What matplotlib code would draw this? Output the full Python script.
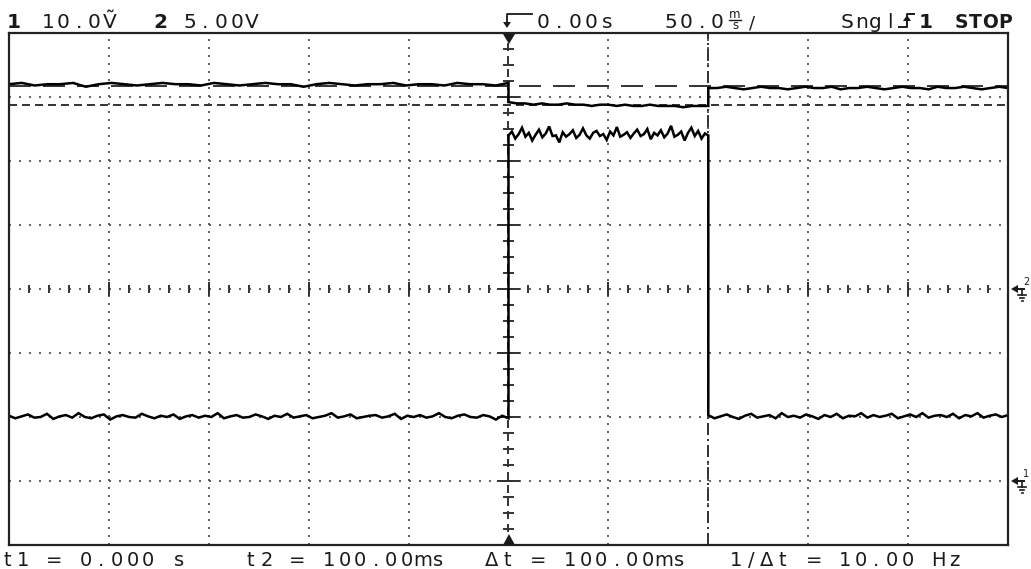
import numpy as np
import matplotlib
matplotlib.use('Agg')
import matplotlib.pyplot as plt
from matplotlib.lines import Line2D
from matplotlib.patches import Polygon

plt.rcParams['lines.scale_dashes'] = False
plt.rcParams['font.family'] = ['DejaVu Sans']

W, H = 1031, 569

# scope settings
ch1_volts_div = 10.0
ch2_volts_div = 5.0
ch1_ground_div = -3.0
ch2_ground_div = 0.0
time_div_ms = 50.0
t_start, t_end = -250.0, 250.0
t1_ms, t2_ms = 0.0, 100.0

# channel 1 (volts), before t1 / between t1 and t2 / after t2
ch1_pre = [10.2, 9.8, 10.1, 10.4, 9.9, 10.0, 10.5, 9.7, 10.1, 10.3, 9.9, 10.6, 10.0, 9.8,
           10.2, 10.4, 9.6, 10.1, 10.3, 10.0, 9.9, 10.5, 10.1, 9.8, 10.2, 10.0, 10.4, 9.7,
           10.1, 10.3, 9.9, 10.2, 10.0, 10.6, 9.8, 10.1, 10.3, 9.9, 10.0, 10.4, 10.1, 9.7,
           10.2, 10.0, 10.5, 9.9, 10.1, 10.3, 9.8, 10.0, 10.2, 10.6, 9.9, 10.1, 10.4, 9.8,
           10.0, 10.2, 10.3, 9.9, 10.1, 10.5, 9.7, 10.2, 10.0, 10.3, 9.9, 10.1, 10.6, 10.0,
           9.8, 10.2, 10.4, 10.0, 9.9, 10.3, 10.1, 9.6, 10.2, 9.8]
ch1_on = [54.0, 54.6, 53.5, 54.2, 55.2, 53.8, 54.4, 53.2, 54.1, 54.9, 53.7, 54.3, 55.4, 53.9,
          54.0, 52.9, 54.5, 53.8, 54.2, 54.8, 53.6, 54.1, 55.1, 54.0, 53.5, 54.4, 54.7, 53.9,
          54.2, 53.3, 54.6, 54.0, 55.3, 53.8, 54.1, 54.5, 53.6, 54.3, 54.9, 53.9, 54.2, 55.0,
          53.4, 54.4, 54.0, 54.8, 53.7, 54.3, 55.5, 53.8, 54.1, 54.6, 53.2, 54.4, 55.2, 53.9,
          54.7, 53.5, 54.3, 54.0]
ch1_post = [10.3, 9.8, 10.1, 10.4, 10.0, 9.7, 10.2, 10.5, 9.9, 10.1, 10.3, 9.8, 10.6, 10.0,
            10.2, 9.9, 10.4, 10.1, 9.7, 10.3, 10.0, 10.5, 9.8, 10.2, 10.1, 10.6, 9.9, 10.3,
            10.0, 10.2, 10.5, 9.8, 10.1, 10.4, 10.0, 10.6, 9.9, 10.2, 10.3, 10.0, 10.5, 9.8,
            10.3, 10.1, 10.6, 9.9, 10.2, 10.4, 10.0, 10.3]

# channel 2 (volts)
ch2_pre = [16.0, 16.1, 15.9, 16.0, 16.0, 16.1, 15.8, 16.0, 16.1, 16.0, 15.9, 16.0, 16.1, 16.0,
           16.0, 15.9, 16.1, 16.0, 15.9, 16.0, 16.1, 16.0, 16.0, 15.8, 16.0, 16.1, 16.0, 15.9,
           16.0, 16.0, 16.1, 15.9, 16.0, 16.0, 15.9, 16.1, 16.0, 16.0, 15.9, 16.1]
ch2_on = [14.6, 14.5, 14.5, 14.4, 14.5, 14.4, 14.4, 14.5, 14.4, 14.4, 14.3, 14.4, 14.4, 14.3,
          14.4, 14.3, 14.3, 14.4, 14.3, 14.3, 14.3, 14.2, 14.3, 14.3, 14.3]
ch2_post = [15.7, 15.7, 15.8, 15.7, 15.6, 15.7, 15.8, 15.7, 15.7, 15.6, 15.7, 15.8, 15.7, 15.7,
            15.8, 15.6, 15.7, 15.7, 15.8, 15.7, 15.6, 15.7, 15.8, 15.7, 15.7, 15.6, 15.8, 15.7,
            15.7, 15.8, 15.7, 15.6, 15.7, 15.8, 15.7]

# voltage cursors (channel 2 volts)
cursor_a_v = 15.85
cursor_b_v = 14.35

header_left = [("1", "10.0Ṽ"), ("2", "5.00V")]
footer = ["t1 = 0.000 s", "t2 = 100.00ms", "Δt = 100.00ms", "1/Δt = 10.00 Hz"]

INK = '#1a1a1a'


def pt(p):
    # pixels -> points at 100 dpi
    return p * 0.72


def fx(x):
    return x / W


def fy(y):
    return 1 - y / H


fig = plt.figure(figsize=(W / 100, H / 100), dpi=100)
ax = fig.add_axes([fx(9), fy(545), (1008 - 9) / W, (545 - 33) / H])
ax.set_xlim(t_start, t_end)
ax.set_ylim(-4, 4)
ax.set_xticks([])
ax.set_yticks([])
for s in ax.spines.values():
    s.set_linewidth(1.6)
    s.set_color('#222222')

# graticule
for k in range(-4, 5):
    if k != 0:
        ax.axvline(k * time_div_ms, color='#555555', lw=1.3, ls=(0, (pt(2), pt(6))))
for k in range(-3, 4):
    if k != 0:
        ax.axhline(k, color='#555555', lw=1.3, ls=(0, (pt(2), pt(8))))
ax.axhline(0, color='#555555', lw=1.3, ls=(0, (pt(2), pt(8))))
minor_x = [x for x in np.arange(t_start, t_end + 1, 10.0) if x != 0]
ax.vlines(minor_x, -0.07, 0.07, color='#333333', lw=1.4)
major_x = [x for x in np.arange(t_start + 50, t_end, 50.0) if x != 0]
ax.vlines(major_x, -0.11, 0.11, color='#333333', lw=1.4)
minor_y = np.arange(-4, 4.01, 0.25)
ax.hlines(minor_y, -3.0, 3.0, color='#333333', lw=1.4)
ax.hlines(np.arange(-3, 4), -6.0, 6.0, color='#333333', lw=1.4)

# time cursors
ax.axvline(t1_ms, color='#333333', lw=1.4, ls=(0, (pt(8), pt(5))))
ax.axvline(t2_ms, color='#333333', lw=1.4, ls=(0, (pt(12), pt(4), pt(2), pt(4))))

# voltage cursors
ax.axhline(cursor_a_v / ch2_volts_div + ch2_ground_div, color='#333333', lw=1.4,
           ls=(0, (pt(22), pt(12))))
ax.axhline(cursor_b_v / ch2_volts_div + ch2_ground_div, color='#333333', lw=1.4,
           ls=(0, (pt(8), pt(5))))


def trace(pre, on, post, vdiv, gnd):
    t = np.concatenate([np.linspace(t_start, t1_ms, len(pre)),
                        np.linspace(t1_ms, t2_ms, len(on)),
                        np.linspace(t2_ms, t_end, len(post))])
    v = np.concatenate([pre, on, post])
    ax.plot(t, v / vdiv + gnd, color='black', lw=1.8, solid_joinstyle='miter')


trace(ch1_pre, ch1_on, ch1_post, ch1_volts_div, ch1_ground_div)
trace(ch2_pre, ch2_on, ch2_post, ch2_volts_div, ch2_ground_div)


# figure-level decorations in image pixels
def fline(xs, ys, lw=1.3):
    fig.add_artist(Line2D([fx(x) for x in xs], [fy(y) for y in ys],
                          transform=fig.transFigure, color=INK, lw=lw))


def ftri(pts):
    fig.add_artist(Polygon([(fx(x), fy(y)) for x, y in pts], closed=True,
                           transform=fig.transFigure, color=INK, lw=0, zorder=5))


def grid_text(x0, base, s, pitch, size=14.5, weight='normal'):
    for i, ch in enumerate(s):
        if ch != ' ':
            fig.text(fx(x0 + (i + 0.5) * pitch), fy(base), ch, ha='center', va='baseline',
                     fontsize=size, fontweight=weight, color=INK)


# header
fig.text(fx(14), fy(28), header_left[0][0], ha='center', va='baseline', fontsize=14.5,
         fontweight='bold', color=INK)
grid_text(40, 28, header_left[0][1], 15.5)
fig.text(fx(160), fy(28), header_left[1][0], ha='center', va='baseline', fontsize=14.5,
         fontweight='bold', color=INK)
grid_text(182, 28, header_left[1][1], 15.6)

fline([532, 507, 507], [14, 14, 22])
ftri([(503, 22), (511, 22), (507, 28)])
grid_text(535, 28, "0.00s", 16)
grid_text(663, 28, "50.0", 15.5)
fig.text(fx(735), fy(18), 'm', ha='center', va='baseline', fontsize=8.5, color=INK)
fline([729, 741], [20, 20], lw=1.0)
fig.text(fx(735), fy(29), 's', ha='center', va='baseline', fontsize=8.5, color=INK)
fig.text(fx(752), fy(28), '/', ha='center', va='baseline', fontsize=13, color=INK)

grid_text(840, 28, "Sngl", 14.3)
fline([899, 907, 907, 914], [27, 27, 14, 14], lw=1.4)
ftri([(903, 21), (911, 21), (907, 15)])
fig.text(fx(926), fy(28), '1', ha='center', va='baseline', fontsize=14.5, fontweight='bold',
         color=INK)
grid_text(954, 28, "STOP", 14.5, size=13.5, weight='bold')

# trigger position markers
ftri([(503, 34), (515, 34), (509, 44)])
ftri([(503, 545), (515, 545), (509, 534)])

# ground reference markers on the right
for gnd, lab in [(ch2_ground_div, '2'), (ch1_ground_div, '1')]:
    y = 289 - gnd * 64
    ftri([(1011, y), (1018, y - 4), (1018, y + 4)])
    fline([1016, 1024], [y, y], lw=1.4)
    fline([1022, 1022], [y, y + 6], lw=1.2)
    fline([1018, 1026], [y + 6, y + 6], lw=1.2)
    fline([1020, 1024], [y + 9, y + 9], lw=1.2)
    fline([1021.5, 1022.5], [y + 12, y + 12], lw=1.2)
    fig.text(fx(1023), fy(y - 4), lab, ha='left', va='baseline', fontsize=7, color=INK)

# footer
for x0, s in zip([0, 243, 484, 728], footer):
    grid_text(x0, 566, s, 15.6, size=14)

fig.savefig('out.png', dpi=100)
